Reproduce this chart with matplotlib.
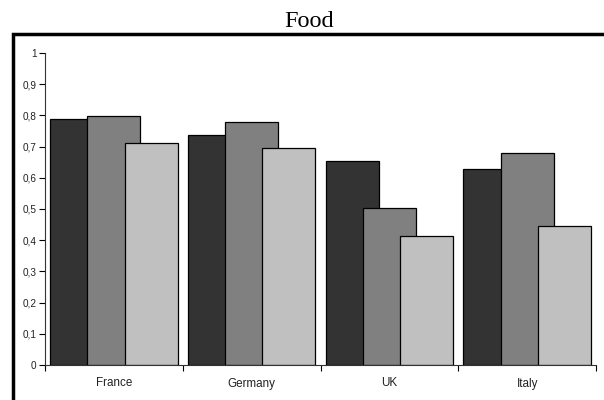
import matplotlib.pyplot as plt
from matplotlib.patches import Rectangle
from matplotlib.ticker import FixedLocator, FuncFormatter
import numpy as np

categories = ["France", "Germany", "UK", "Italy"]
series_1 = [0.79, 0.737, 0.655, 0.627]
series_2 = [0.798, 0.78, 0.502, 0.678]
series_3 = [0.71, 0.697, 0.414, 0.446]

colors = ["#333333", "#808080", "#c0c0c0"]


def fmt(v, pos):
    s = f"{v:.1f}".replace(".", ",")
    return s[:-2] if s.endswith(",0") else s


fig = plt.figure(figsize=(6.04, 4.0), dpi=100)
ax = fig.add_axes([45 / 604, 35 / 400, 551 / 604, 312 / 400])

x = np.arange(len(categories))
width = 0.385
step = 0.27
for i, vals in enumerate([series_1, series_2, series_3]):
    ax.bar(x + (i - 1) * step, vals, width=width, color=colors[i],
           edgecolor="black", linewidth=0.9, zorder=2 + i)

ax.set_xlim(-0.5, len(categories) - 0.5)
ax.set_ylim(0, 1)

# y axis
ax.set_yticks(np.arange(0, 1.01, 0.1))
ax.yaxis.set_major_formatter(FuncFormatter(fmt))
ax.tick_params(axis="y", direction="out", length=4, width=0.8, labelsize=7.2,
               pad=2, labelcolor="#222222")

# x axis: labels at centers, ticks at boundaries
ax.set_xticks(x)
ax.set_xticklabels(categories, fontsize=8.4, color="#222222")
ax.tick_params(axis="x", which="major", length=0, pad=9)
ax.xaxis.set_minor_locator(FixedLocator(np.arange(-0.5, len(categories), 1)))
ax.tick_params(axis="x", which="minor", direction="out", length=4, width=0.8)

for s in ["top", "right"]:
    ax.spines[s].set_visible(False)
for s in ["left", "bottom"]:
    ax.spines[s].set_linewidth(0.8)
    ax.spines[s].set_color("#333333")
    ax.spines[s].set_zorder(10)

for lbl in ax.get_xticklabels() + ax.get_yticklabels():
    lbl.set_family("Liberation Sans")

# outer frame
frame = Rectangle((13 / 604, -0.05), 1.0, 1 - 34 / 400 + 0.05, transform=fig.transFigure,
                  fill=False, edgecolor="black", linewidth=2.5, clip_on=False)
fig.patches.append(frame)

fig.text(309 / 604, 1 - 27 / 400, "Food", ha="center", va="baseline",
         fontsize=17.5, family="Liberation Serif")

fig.savefig("out.png", dpi=100)
